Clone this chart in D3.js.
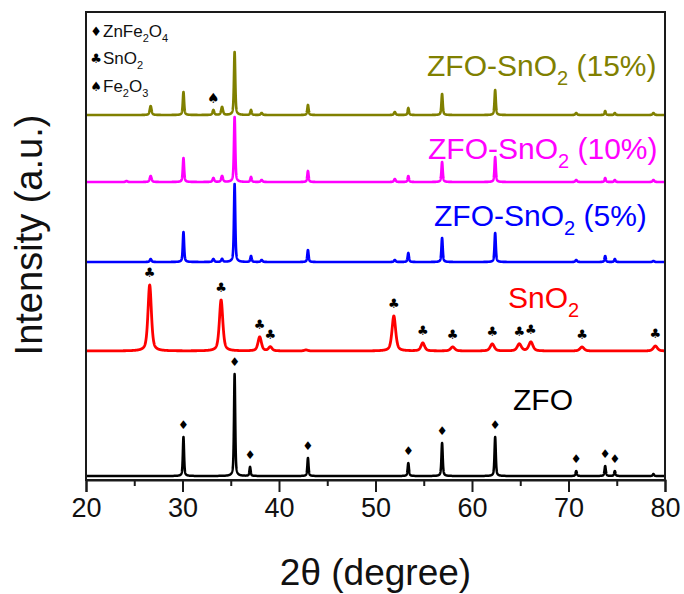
<!DOCTYPE html>
<html><head><meta charset="utf-8">
<script src="https://cdn.jsdelivr.net/npm/d3@7"></script>
<style>body{margin:0;background:#fff}svg{display:block}</style>
</head><body>
<svg id="chart" width="684" height="594"></svg>
<script>
// XRD peak lists per sample: [2θ (degree), peak height (a.u.), FWHM (degree)]
const zfoPeaks = [[30.1,39,0.15],[35.4,102,0.15],[37.0,9,0.15],[43.0,18,0.15],[53.4,13,0.16],[56.9,33,0.16],[62.4,39,0.16],[70.8,5,0.16],[73.8,10,0.16],[74.8,5,0.16],[78.8,2,0.16]];
const sno2Peaks = [[26.6,66,0.42],[34.0,51,0.42],[38.0,14,0.42],[39.1,4,0.42],[42.8,1,0.45],[51.9,35,0.45],[54.9,8,0.45],[58.0,4,0.5],[62.1,7,0.5],[64.9,7,0.5],[66.1,9,0.5],[71.4,4,0.5],[79.0,5,0.5]];
const zs5Peaks = [[26.7,3,0.2],[30.1,30,0.16],[33.2,3,0.2],[34.1,3,0.2],[35.4,78,0.16],[37.1,6,0.16],[38.2,2,0.2],[43.0,12,0.16],[52.0,2,0.2],[53.4,9,0.16],[56.9,24,0.16],[62.4,29,0.16],[70.8,2,0.2],[73.8,6,0.16],[74.8,3,0.16],[78.8,1,0.2]];
const zs10Peaks = [[24.2,1,0.2],[26.7,6,0.22],[30.1,24,0.16],[33.2,4,0.2],[34.1,6,0.22],[35.4,65,0.16],[37.1,5,0.16],[38.2,2,0.2],[43.0,11,0.16],[52.0,3,0.2],[53.4,6,0.16],[56.9,20,0.16],[62.4,25,0.16],[70.8,2,0.2],[73.8,4,0.16],[74.8,2,0.16],[78.8,2,0.2]];
const zs15Peaks = [[26.7,9,0.22],[30.1,23,0.16],[33.2,5,0.2],[34.1,8,0.22],[35.4,63,0.16],[37.1,5,0.16],[38.2,2,0.2],[43.0,10,0.16],[52.0,3,0.2],[53.4,7,0.16],[56.9,21,0.16],[62.4,25,0.16],[70.8,2,0.2],[73.8,4,0.16],[74.8,2,0.16],[78.8,2,0.2]];

// Vertical offsets of the stacked patterns (a.u.)
const offsets = {zfo: 4, sno2: 129, zs5: 218, zs10: 298, zs15: 365};

// Phase markers: 2θ positions of indexed reflections
const spinelMarks = [30.1, 35.4, 37.0, 43.0, 53.4, 56.9, 62.4, 70.8, 73.8, 74.8];
const rutileMarks = [26.6, 34.0, 38.0, 39.1, 51.9, 54.9, 58.0, 62.1, 64.9, 66.1, 71.4, 79.0];
const hematiteMarks = [33.2];

const xTicks = [20, 30, 40, 50, 60, 70, 80];
const xMinorTicks = [25, 35, 45, 55, 65, 75];

const series = [
  {key: "zfo",  peaks: zfoPeaks,  color: "#000000", width: 2.5, label: ["ZFO", "", ""],            lx: 513, ly: 410},
  {key: "sno2", peaks: sno2Peaks, color: "#ff0000", width: 2.8, label: ["SnO", "2", ""],           lx: 508, ly: 308},
  {key: "zs5",  peaks: zs5Peaks,  color: "#0000ff", width: 2.6, label: ["ZFO-SnO", "2", " (5%)"],  lx: 434, ly: 226},
  {key: "zs10", peaks: zs10Peaks, color: "#ff00ff", width: 2.6, label: ["ZFO-SnO", "2", " (10%)"], lx: 428, ly: 159},
  {key: "zs15", peaks: zs15Peaks, color: "#808000", width: 2.6, label: ["ZFO-SnO", "2", " (15%)"], lx: 427, ly: 76}
];

const svg = d3.select("#chart");
const margin = {left: 86, right: 19, top: 12, bottom: 114};
const W = 684, H = 594;
const x = d3.scaleLinear().domain([20, 80]).range([margin.left, W - margin.right]);
const y = d3.scaleLinear().domain([0, 468]).range([H - margin.bottom, margin.top]);

// pseudo-Voigt line shape for a single reflection
function profile(t, p) {
  const [c, h, w] = p;
  const d = (t - c) / (w / 2);
  const lor = 1 / (1 + d * d);
  const gau = Math.exp(-Math.LN2 * d * d);
  return h * (0.55 * lor + 0.45 * gau);
}
const grid = d3.range(20, 80.0001, 0.01);

svg.append("defs").append("clipPath").attr("id", "plotclip")
  .append("rect").attr("x", margin.left).attr("y", margin.top)
  .attr("width", W - margin.left - margin.right).attr("height", H - margin.top - margin.bottom);

const line = d3.line().x(d => x(d[0])).y(d => y(d[1]));
const plot = svg.append("g").attr("clip-path", "url(#plotclip)");

series.forEach(s => {
  const off = offsets[s.key];
  const pts = grid.map(t => [t, off + d3.sum(s.peaks, p => profile(t, p))]);
  plot.append("path").attr("d", line(pts))
    .attr("fill", "none").attr("stroke", s.color)
    .attr("stroke-width", s.width).attr("stroke-linejoin", "round");
});

// series labels
series.forEach(s => {
  const t = svg.append("text").attr("x", s.lx).attr("y", s.ly)
    .attr("fill", s.color).attr("font-family", "'Liberation Sans', Arial, sans-serif")
    .attr("font-size", 30);
  t.append("tspan").text(s.label[0]);
  if (s.label[1]) t.append("tspan").attr("font-size", 20).attr("dy", 9).text(s.label[1]);
  if (s.label[2]) t.append("tspan").attr("dy", -9).text(s.label[2]);
});

// phase markers above reflections
function peakTop(peaks, off, pos) {
  const p = peaks.reduce((a, b) => Math.abs(b[0] - pos) < Math.abs(a[0] - pos) ? b : a);
  return off + d3.sum(peaks, q => profile(p[0], q));
}
const markFont = "'DejaVu Sans', sans-serif";
function drawMarks(list, peaks, off, glyph, size) {
  svg.append("g").selectAll("text").data(list).join("text")
    .attr("x", d => x(d)).attr("y", d => y(peakTop(peaks, off, d)) - 12)
    .attr("text-anchor", "middle").attr("dominant-baseline", "central")
    .attr("font-family", markFont).attr("font-size", size).attr("fill", "#000")
    .text(glyph);
}
drawMarks(spinelMarks, zfoPeaks, offsets.zfo, "\u2666", 12);
drawMarks(rutileMarks, sno2Peaks, offsets.sno2, "\u2663", 13);
drawMarks(hematiteMarks, zs15Peaks, offsets.zs15, "\u2660", 14);

// phase legend
const legend = [
  {glyph: "\u2666", parts: [["ZnFe", 0], ["2", 1], ["O", 0], ["4", 1]], yb: 37},
  {glyph: "\u2663", parts: [["SnO", 0], ["2", 1]], yb: 64},
  {glyph: "\u2660", parts: [["Fe", 0], ["2", 1], ["O", 0], ["3", 1]], yb: 92}
];
legend.forEach(l => {
  svg.append("text").attr("x", 96).attr("y", l.yb - 6)
    .attr("text-anchor", "middle").attr("dominant-baseline", "central")
    .attr("font-family", markFont).attr("font-size", 13).text(l.glyph);
  const t = svg.append("text").attr("x", 103).attr("y", l.yb)
    .attr("font-family", "'Liberation Sans', Arial, sans-serif").attr("font-size", 17).attr("fill", "#111");
  let prev = 0;
  l.parts.forEach(([txt, sub]) => {
    const dy = (sub - prev) * 5;
    t.append("tspan").attr("dy", dy).attr("font-size", sub ? 11 : 17).text(txt);
    prev = sub;
  });
});

// frame
const fr = svg.append("g").attr("stroke", "#1a1a1a").attr("stroke-width", 2).attr("fill", "none");
fr.append("rect").attr("x", margin.left).attr("y", margin.top)
  .attr("width", W - margin.left - margin.right).attr("height", H - margin.top - margin.bottom);

// bottom axis
const axisG = svg.append("g").attr("transform", `translate(0,${H - margin.bottom})`)
  .call(d3.axisBottom(x).tickValues(xTicks).tickSize(12).tickPadding(6).tickFormat(d3.format("d")));
axisG.select(".domain").attr("stroke", "#1a1a1a").attr("stroke-width", 2);
axisG.selectAll(".tick line").attr("stroke", "#1a1a1a").attr("stroke-width", 2);
axisG.selectAll(".tick text").attr("font-family", "'Liberation Sans', Arial, sans-serif")
  .attr("font-size", 27).attr("fill", "#111");
svg.append("g").attr("transform", `translate(0,${H - margin.bottom})`)
  .call(d3.axisBottom(x).tickValues(xMinorTicks).tickSize(6).tickFormat(""))
  .call(g => g.select(".domain").remove())
  .selectAll(".tick line").attr("stroke", "#1a1a1a").attr("stroke-width", 2);

// axis titles
svg.append("text").attr("x", (margin.left + W - margin.right) / 2).attr("y", 585)
  .attr("text-anchor", "middle").attr("font-family", "'Liberation Sans', Arial, sans-serif")
  .attr("font-size", 37).attr("fill", "#111").text("2\u03b8 (degree)");
svg.append("text").attr("transform", "translate(42,235) rotate(-90)")
  .attr("text-anchor", "middle").attr("font-family", "'Liberation Sans', Arial, sans-serif")
  .attr("font-size", 38).attr("fill", "#111").text("Intensity (a.u.)");
</script>
</body></html>
